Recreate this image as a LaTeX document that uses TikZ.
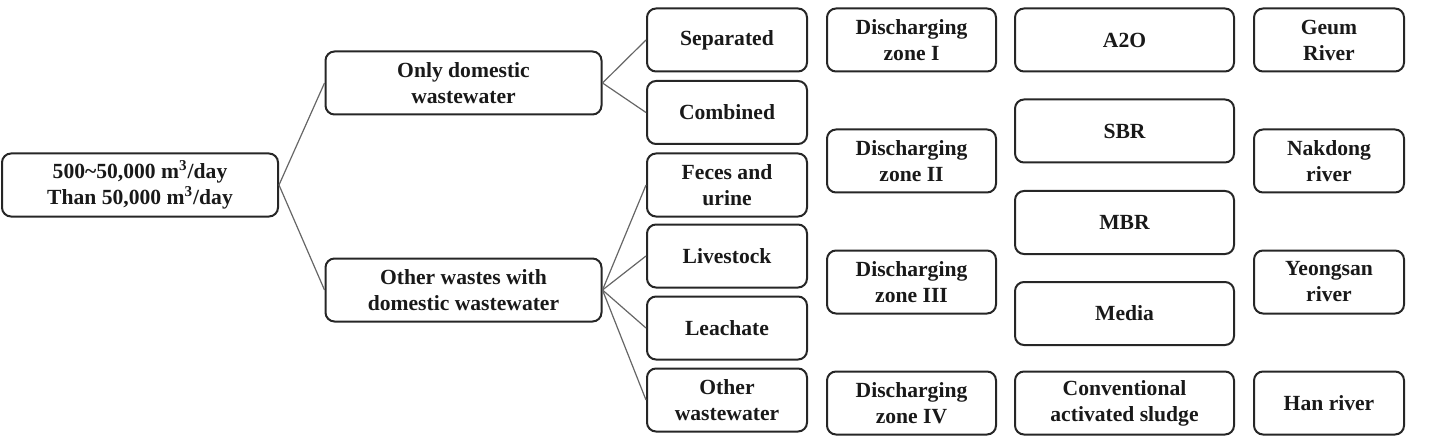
\documentclass[tikz,border=0pt]{standalone}
\usepackage{fontspec}
\setmainfont{Liberation Serif}
\begin{document}
\begin{tikzpicture}[x=0.5pt,y=-0.5pt,
  box/.style={draw=black!85, line width=1pt, rounded corners=4.5pt, align=center,
    minimum height=31.5pt, inner sep=1pt,
    font=\fontsize{10.8}{13}\selectfont\bfseries, text=black!90},
  wA/.style={box, minimum width=138pt},
  wC/.style={box, minimum width=80pt},
  wD/.style={box, minimum width=84.5pt},
  wP/.style={box, minimum width=109.5pt},
  wR/.style={box, minimum width=75pt},
  link/.style={draw=black!60, line width=0.6pt}]
\useasboundingbox (0,0) rectangle (1443,438);
\node[wA] (root) at (140,185) {500\textasciitilde 50,000 m\textsuperscript{3}/day\\Than 50,000 m\textsuperscript{3}/day};
\node[wA] (dom) at (463.5,83) {Only domestic\\wastewater};
\node[wA] (oth) at (463.5,290) {Other wastes with\\domestic wastewater};
\node[wC] (sep) at (727,40) {Separated};
\node[wC] (com) at (727,112.5) {Combined};
\node[wC] (fec) at (727,185) {Feces and\\urine};
\node[wC] (liv) at (727,256) {Livestock};
\node[wC] (lea) at (727,328) {Leachate};
\node[wC] (oww) at (727,400) {Other\\wastewater};
\node[wD] (z1) at (911.5,40) {Discharging\\zone I};
\node[wD] (z2) at (911.5,161) {Discharging\\zone II};
\node[wD] (z3) at (911.5,282) {Discharging\\zone III};
\node[wD] (z4) at (911.5,403) {Discharging\\zone IV};
\node[wP] (a2o) at (1124.5,40) {A2O};
\node[wP] (sbr) at (1124.5,131) {SBR};
\node[wP] (mbr) at (1124.5,222.5) {MBR};
\node[wP] (med) at (1124.5,313.5) {Media};
\node[wP] (cas) at (1124.5,403) {Conventional\\activated sludge};
\node[wR] (geum) at (1329,40) {Geum\\River};
\node[wR] (nak) at (1329,161) {Nakdong\\river};
\node[wR] (yeo) at (1329,282) {Yeongsan\\river};
\node[wR] (han) at (1329,403) {Han river};
\draw[link] (root.east) -- (dom.west);
\draw[link] (root.east) -- (oth.west);
\draw[link] (dom.east) -- (sep.west);
\draw[link] (dom.east) -- (com.west);
\draw[link] (oth.east) -- (fec.west);
\draw[link] (oth.east) -- (liv.west);
\draw[link] (oth.east) -- (lea.west);
\draw[link] (oth.east) -- (oww.west);
\end{tikzpicture}
\end{document}
